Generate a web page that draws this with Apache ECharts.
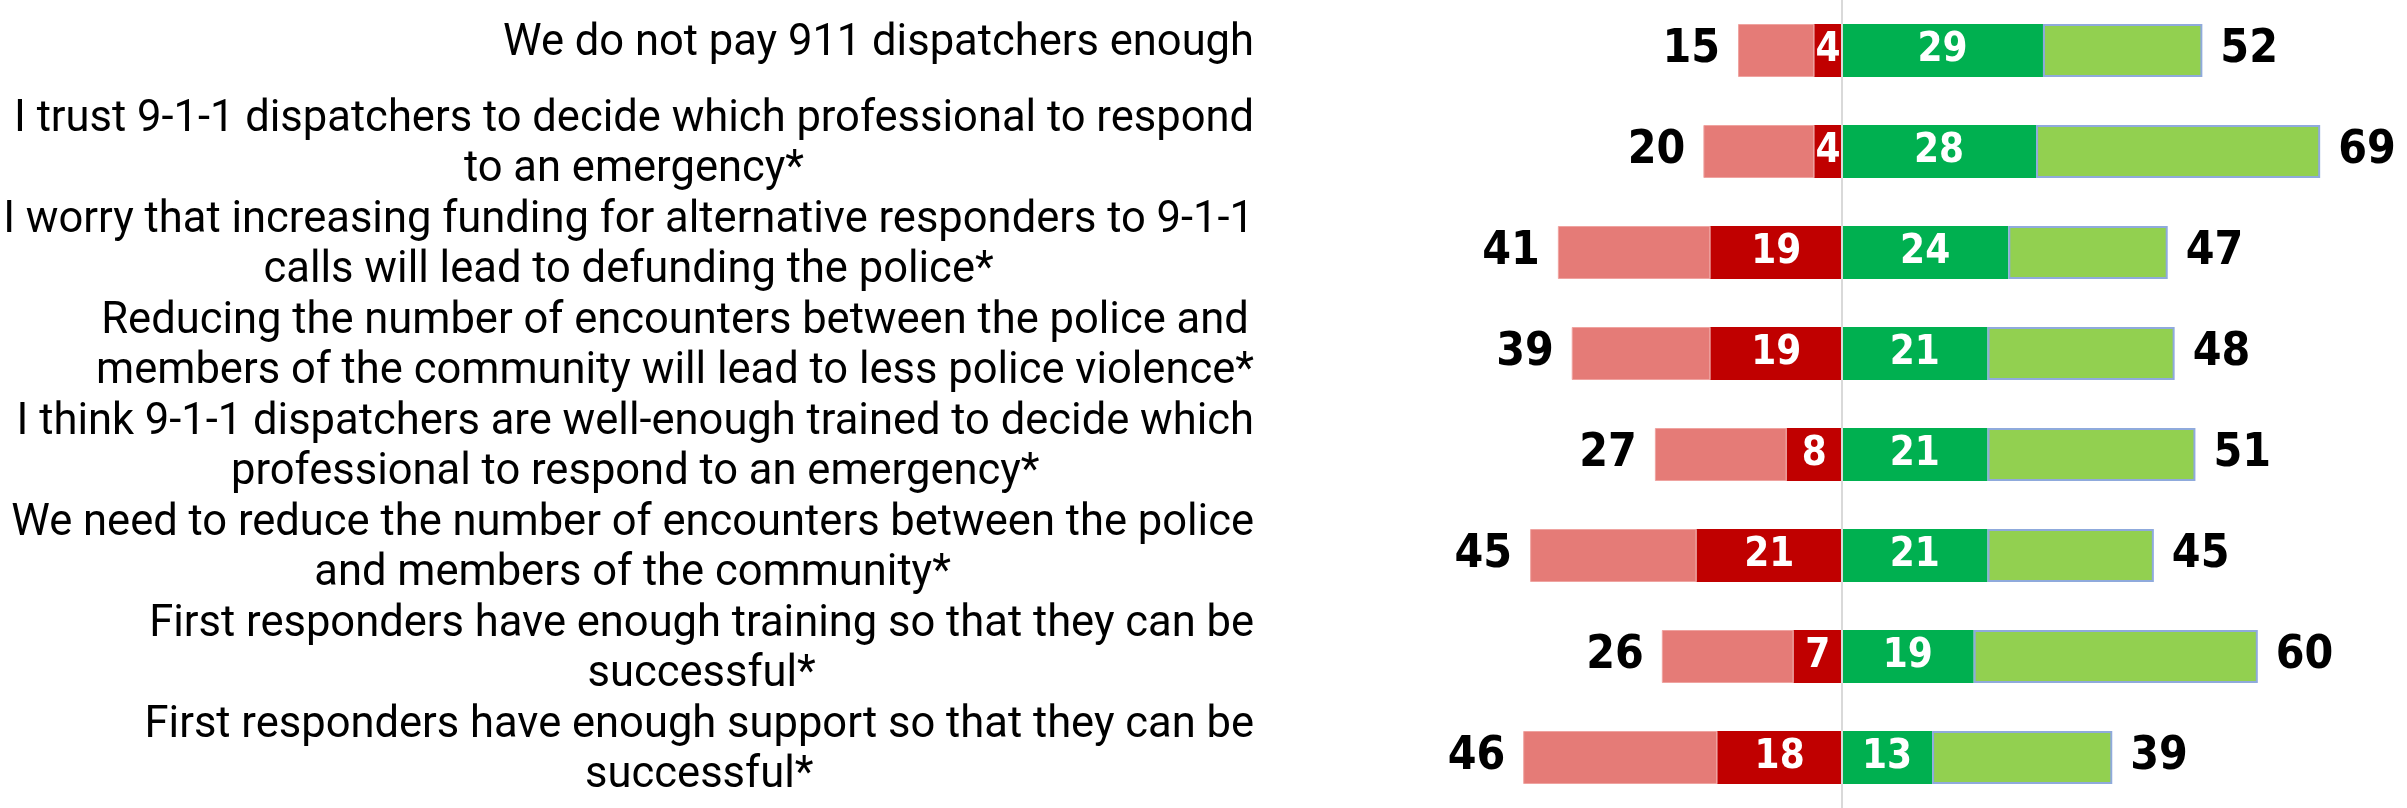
<!DOCTYPE html>
<html>
<head>
<meta charset="utf-8">
<style>
  html, body { margin: 0; padding: 0; background: #ffffff; }
  #chart { width: 2407px; height: 808px; }
</style>
<script src="https://cdn.jsdelivr.net/npm/echarts@6/dist/echarts.min.js"></script>
</head>
<body>
<div id="chart"></div>
<script>
// Survey statements (line breaks where each label wraps)
const categories = [
  'We do not pay 911 dispatchers enough',
  'I trust 9-1-1 dispatchers to decide which professional to respond\nto an emergency*',
  'I worry that increasing funding for alternative responders to 9-1-1\ncalls will lead to defunding the police*',
  'Reducing the number of encounters between the police and\nmembers of the community will lead to less police violence*',
  'I think 9-1-1 dispatchers are well-enough trained to decide which\nprofessional to respond to an emergency*',
  'We need to reduce the number of encounters between the police\nand members of the community*',
  'First responders have enough training so that they can be\nsuccessful*',
  'First responders have enough support so that they can be\nsuccessful*'
];

// Percent disagreeing (total) and strongly disagreeing
const totalDisagree = [15, 20, 41, 39, 27, 45, 26, 46];
const strongDisagree = [4, 4, 19, 19, 8, 21, 7, 18];
// Percent agreeing: strongly, and in total
const strongAgree = [29, 28, 24, 21, 21, 21, 19, 13];
const totalAgree = [52, 69, 47, 48, 51, 45, 60, 39];

const LABEL_FONT = 'Roboto, "DejaVu Sans", sans-serif';
const NUM_FONT = '"Liberation Sans Narrow", "DejaVu Sans Condensed", "Liberation Sans", sans-serif';

const chart = echarts.init(document.getElementById('chart'), null, { renderer: 'canvas' });

const innerLabel = {
  show: true,
  position: 'inside',
  color: '#ffffff',
  fontFamily: NUM_FONT,
  fontWeight: 'bold',
  fontSize: 40
};

const totalLabel = {
  show: true,
  distance: 18,
  color: '#000000',
  fontFamily: NUM_FONT,
  fontWeight: 'bold',
  fontSize: 46
};

chart.setOption({
  backgroundColor: '#ffffff',
  animation: false,
  grid: { left: 1495.5, right: 45.25, top: -25.5, bottom: -14.5, containLabel: false },
  xAxis: {
    type: 'value',
    min: -50,
    max: 75,
    show: false,
    splitLine: { show: false }
  },
  yAxis: {
    type: 'category',
    inverse: true,
    data: categories,
    axisLine: { show: false },
    axisTick: { show: false },
    splitLine: { show: false },
    axisLabel: {
      margin: 241.5,
      align: 'right',
      verticalAlign: 'middle',
      padding: [0, 0, 12, 0],
      formatter: function (value) {
        // every line centred within the right-aligned block
        return value.split('\n').map(function (line) {
          return '{line|' + line + '}';
        }).join('\n');
      },
      rich: {
        line: {
          align: 'center',
          fontFamily: LABEL_FONT,
          fontSize: 43.5,
          lineHeight: 50,
          color: '#000000'
        }
      }
    }
  },
  series: [
    {
      name: 'Strongly disagree',
      type: 'bar',
      stack: 'opinion',
      barWidth: 53,
      data: strongDisagree.map(function (v) { return -v; }),
      itemStyle: { color: '#C00000' },
      label: Object.assign({}, innerLabel, {
        formatter: function (p) { return strongDisagree[p.dataIndex]; }
      })
    },
    {
      name: 'Somewhat disagree',
      type: 'bar',
      stack: 'opinion',
      barWidth: 53,
      data: totalDisagree.map(function (v, i) { return -(v - strongDisagree[i]); }),
      itemStyle: { color: '#E57B77', borderColor: '#EFA3A0', borderWidth: 1 },
      label: Object.assign({}, totalLabel, {
        position: 'left',
        formatter: function (p) { return totalDisagree[p.dataIndex]; }
      })
    },
    {
      name: 'Strongly agree',
      type: 'bar',
      stack: 'opinion',
      barWidth: 53,
      data: strongAgree.slice(),
      itemStyle: { color: '#00B050' },
      label: Object.assign({}, innerLabel, {
        formatter: function (p) { return strongAgree[p.dataIndex]; }
      }),
      markLine: {
        silent: true,
        symbol: 'none',
        label: { show: false },
        lineStyle: { color: '#D9D9D9', width: 2, type: 'solid' },
        data: [{ xAxis: 0 }]
      }
    },
    {
      name: 'Somewhat agree',
      type: 'bar',
      stack: 'opinion',
      barWidth: 53,
      data: totalAgree.map(function (v, i) { return v - strongAgree[i]; }),
      itemStyle: { color: '#92D050', borderColor: '#8FAADC', borderWidth: 2 },
      label: Object.assign({}, totalLabel, {
        position: 'right',
        formatter: function (p) { return totalAgree[p.dataIndex]; }
      })
    }
  ]
});
</script>
</body>
</html>
